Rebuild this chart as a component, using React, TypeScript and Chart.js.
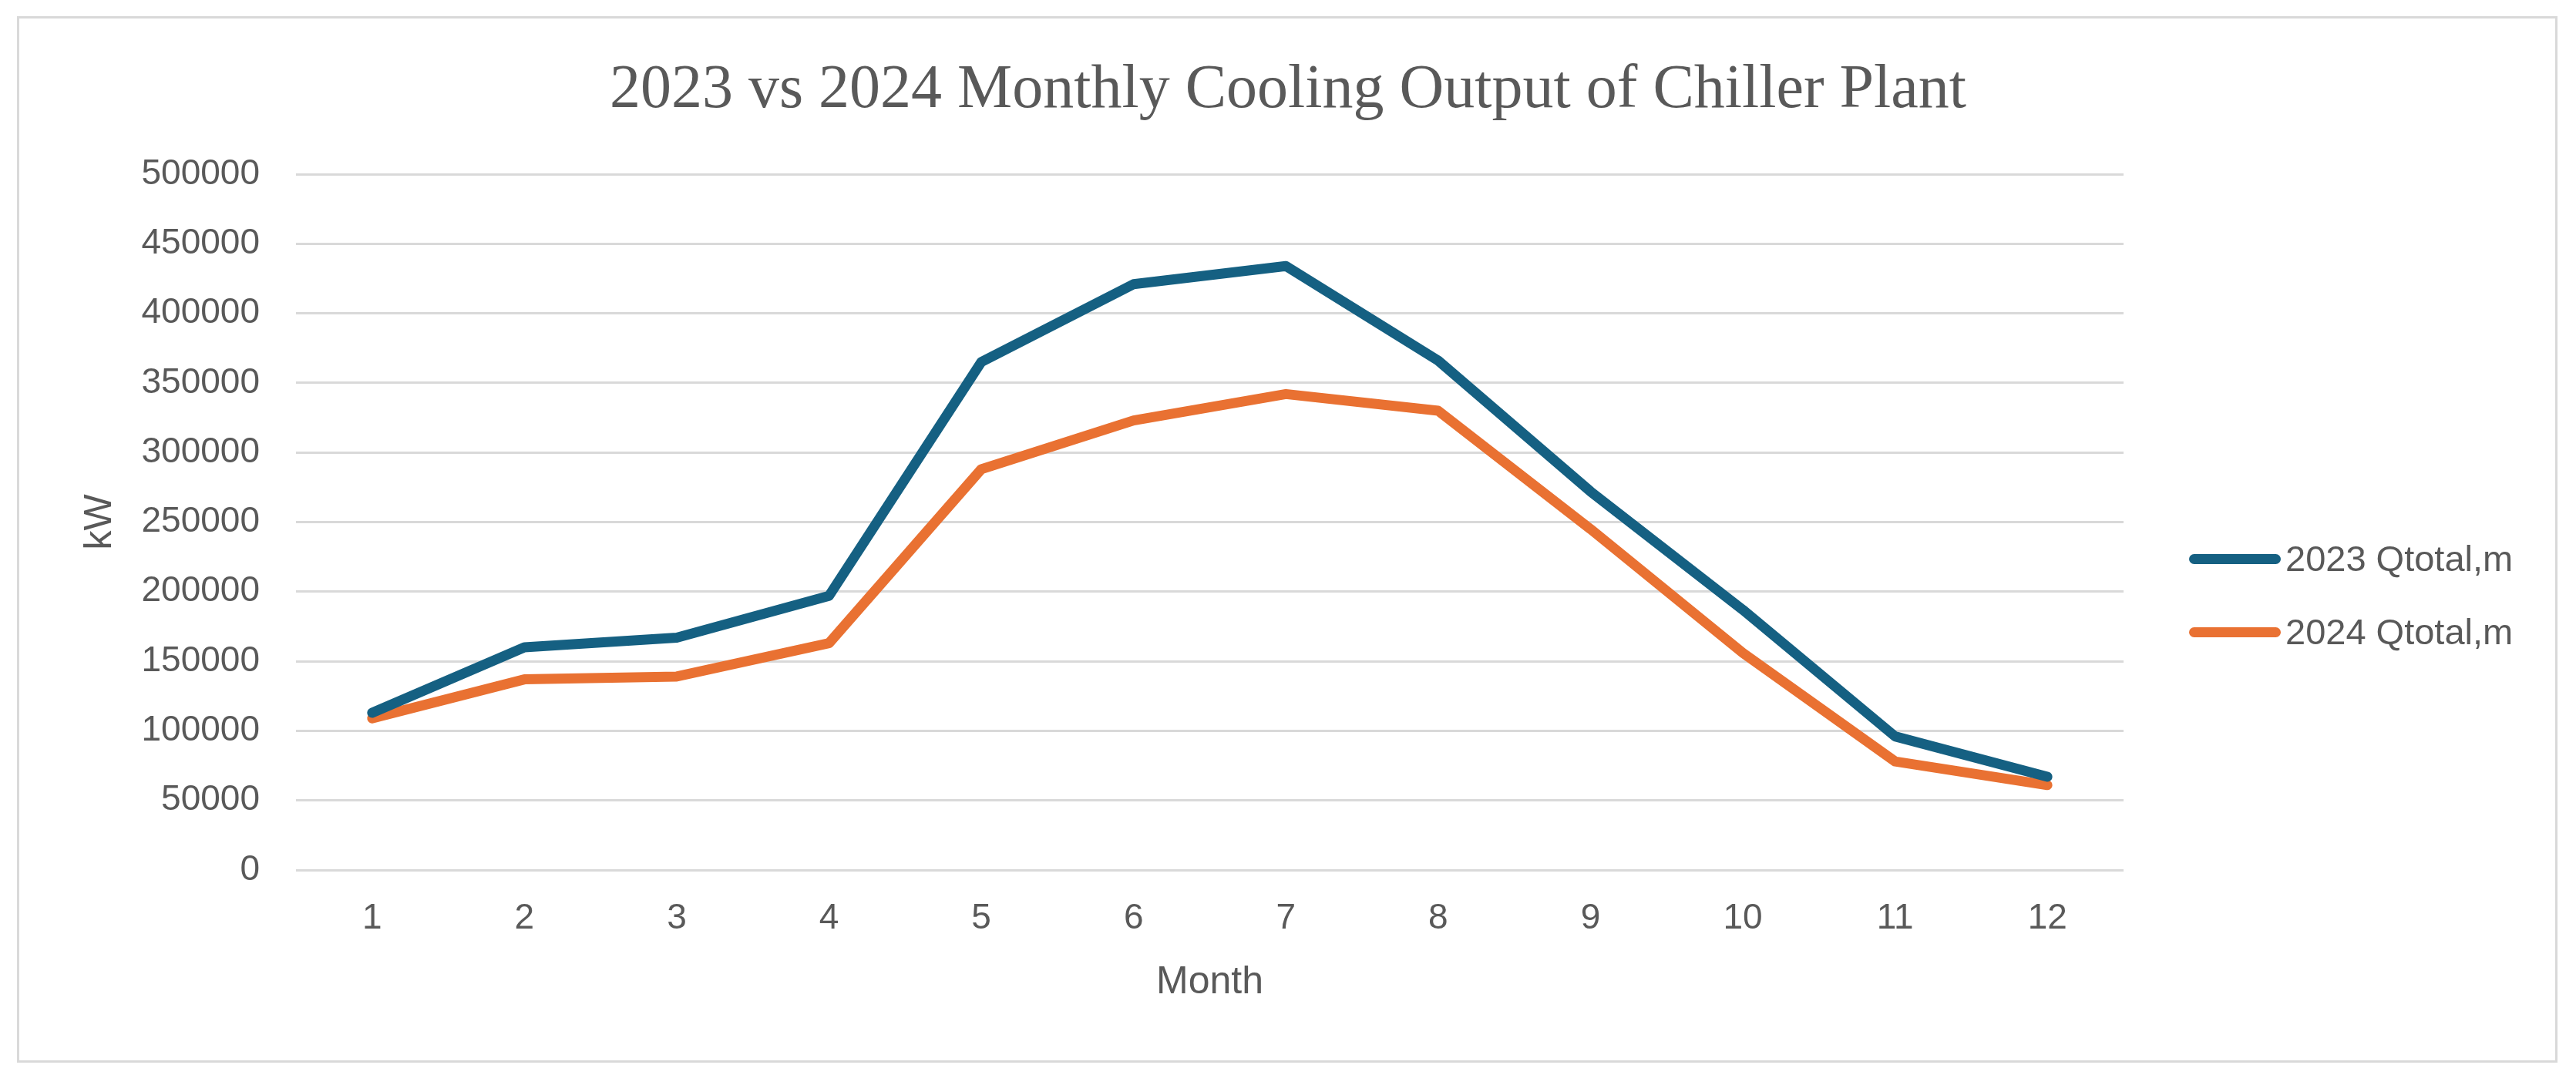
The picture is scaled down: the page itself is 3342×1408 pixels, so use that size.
import React, { useEffect, useRef } from "react";
import { Chart, registerables } from "chart.js";

Chart.register(...registerables);

const TITLE = "2023 vs 2024 Monthly Cooling Output of Chiller Plant";
const X_TITLE = "Month";
const Y_TITLE = "kW";
const MONTHS = ["1", "2", "3", "4", "5", "6", "7", "8", "9", "10", "11", "12"];
const SERIES_LABELS = ["2023 Qtotal,m", "2024 Qtotal,m"];
const Q_2023 = [113000, 160000, 167000, 197000, 365000, 421000, 434000, 366000, 272000, 187000, 96000, 67000];
const Q_2024 = [109000, 137000, 139000, 163000, 288000, 323000, 342000, 330000, 245000, 156000, 78000, 61000];
const SERIES_COLORS = ["#156082", "#E97132"];
const Y_MIN = 0;
const Y_MAX = 500000;
const Y_STEP = 50000;

const TEXT_COLOR = "#595959";
const GRID_COLOR = "#D9D9D9";
const SANS = "'Liberation Sans', Arial, sans-serif";
const SERIF = "'Liberation Serif', 'Times New Roman', serif";

const SERIES = [Q_2023, Q_2024];
const LEGEND_Y = [725, 820];

export default function App() {
  const ref = useRef<HTMLCanvasElement>(null);

  useEffect(() => {
    if (!ref.current) return;
    const chart = new Chart(ref.current, {
      type: "line",
      data: {
        labels: MONTHS,
        datasets: SERIES.map((d, i) => ({
          label: SERIES_LABELS[i],
          data: d,
          yAxisID: "y",
          borderColor: SERIES_COLORS[i],
          backgroundColor: SERIES_COLORS[i],
          borderWidth: 13,
          pointRadius: 0,
          pointHoverRadius: 0,
          tension: 0,
          borderCapStyle: "round",
          borderJoinStyle: "round",
          fill: false,
        })),
      },
      options: {
        responsive: false,
        animation: false,
        devicePixelRatio: 1,
        layout: { padding: { left: 0, right: 0, top: 0, bottom: 0 } },
        plugins: {
          legend: { display: false },
          tooltip: { enabled: false },
          title: {
            display: true,
            text: TITLE,
            color: TEXT_COLOR,
            font: { family: SERIF, size: 80, weight: "normal", lineHeight: 1.2 },
            padding: { top: 70, bottom: 60 },
          },
        },
        scales: {
          x: {
            type: "category",
            offset: true,
            grid: { display: false, drawTicks: false },
            border: { display: false },
            ticks: {
              color: TEXT_COLOR,
              padding: 36,
              font: { family: SANS, size: 46, lineHeight: 1.2 },
              maxRotation: 0,
              autoSkip: false,
            },
            title: {
              display: true,
              text: X_TITLE,
              color: TEXT_COLOR,
              font: { family: SANS, size: 50, lineHeight: 1.2 },
              padding: { top: 0, bottom: 103 },
            },
            afterFit: (s: any) => {
              s.height = 279;
            },
          },
          y: {
            position: "left",
            min: Y_MIN,
            max: Y_MAX,
            grid: { color: GRID_COLOR, lineWidth: 3, drawTicks: false },
            border: { display: false },
            ticks: {
              stepSize: Y_STEP,
              color: TEXT_COLOR,
              padding: 47,
              font: { family: SANS, size: 46, lineHeight: 1.2 },
              callback: (v: any) => String(v),
            },
            title: {
              display: true,
              text: Y_TITLE,
              color: TEXT_COLOR,
              font: { family: SANS, size: 50, lineHeight: 1.2 },
              padding: { top: 100, bottom: 0 },
            },
            afterFit: (s: any) => {
              s.width = 384;
            },
          },
          legendSpace: {
            type: "linear",
            position: "right",
            display: true,
            min: Y_MIN,
            max: Y_MAX,
            grid: { display: false, drawTicks: false },
            border: { display: false },
            ticks: { display: false },
            afterFit: (s: any) => {
              s.width = 587;
            },
          },
        },
      },
    });
    return () => chart.destroy();
  }, []);

  return (
    <div
      style={{
        position: "fixed",
        left: 0,
        top: 0,
        width: 3342,
        height: 1408,
        background: "#ffffff",
        overflow: "hidden",
      }}
    >
      <canvas
        ref={ref}
        width={3342}
        height={1408}
        style={{ position: "absolute", left: 0, top: 0, width: 3342, height: 1408 }}
      />
      <div
        style={{
          position: "absolute",
          left: 22,
          top: 21,
          width: 3296,
          height: 1358,
          border: `3px solid ${GRID_COLOR}`,
          boxSizing: "border-box",
          pointerEvents: "none",
        }}
      />
      {SERIES_LABELS.map((lab, i) => (
        <React.Fragment key={lab}>
          <div
            style={{
              position: "absolute",
              left: 2840,
              top: LEGEND_Y[i] - 6.5,
              width: 119,
              height: 13,
              borderRadius: 6.5,
              background: SERIES_COLORS[i],
            }}
          />
          <div
            style={{
              position: "absolute",
              left: 2965,
              top: LEGEND_Y[i] - 35,
              height: 70,
              lineHeight: "70px",
              fontFamily: SANS,
              fontSize: 47,
              color: TEXT_COLOR,
              whiteSpace: "nowrap",
            }}
          >
            {lab}
          </div>
        </React.Fragment>
      ))}
    </div>
  );
}
